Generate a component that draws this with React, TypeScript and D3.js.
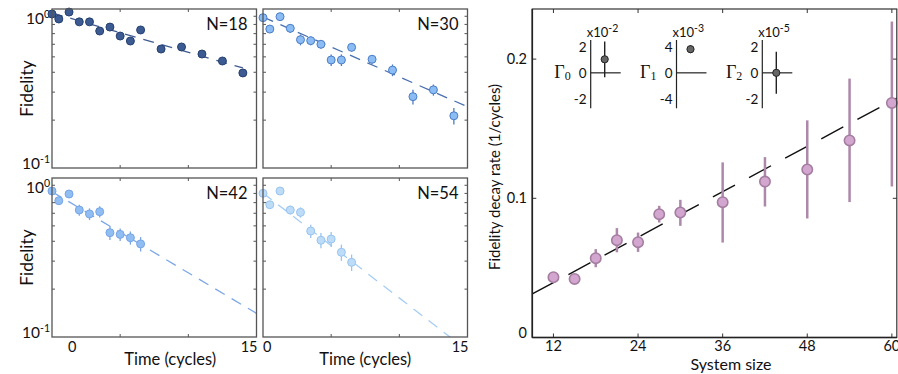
import * as d3 from "d3";
import React from "react";

const FONT = "Lato, 'Open Sans', sans-serif";
const SERIF = "'Liberation Serif', 'DejaVu Serif', serif";

// time points (cycles)
const timesLong = [0, 0.5, 1.25, 2, 2.75, 3.5, 4.25, 5, 5.75, 6.5, 8, 9.5, 11, 12.5, 14];
const timesShort = [0, 0.5, 1.25, 2, 2.75, 3.5, 4.25, 5, 5.75, 6.5];

// fidelity for each system size
const fid18 = [0.93, 0.865, 0.957, 0.83, 0.83, 0.727, 0.77, 0.676, 0.629, 0.738, 0.56, 0.577, 0.521, 0.471, 0.396];
const err18 = [0.015, 0.015, 0.015, 0.015, 0.015, 0.015, 0.015, 0.015, 0.015, 0.015, 0.015, 0.015, 0.015, 0.02, 0.02];
const fid30 = [0.882, 0.748, 0.895, 0.756, 0.641, 0.632, 0.6, 0.478, 0.478, 0.574, 0.483, 0.413, 0.281, 0.31, 0.213];
const err30 = [0.03, 0.03, 0.03, 0.05, 0.05, 0.04, 0.035, 0.04, 0.04, 0.035, 0.03, 0.035, 0.03, 0.025, 0.025];
const fid42 = [0.828, 0.72, 0.793, 0.629, 0.594, 0.614, 0.453, 0.442, 0.421, 0.385];
const err42 = [0.03, 0.03, 0.03, 0.05, 0.05, 0.05, 0.045, 0.04, 0.04, 0.04];
const fid54 = [0.801, 0.679, 0.828, 0.629, 0.608, 0.464, 0.406, 0.413, 0.341, 0.295];
const err54 = [0.03, 0.03, 0.03, 0.04, 0.045, 0.045, 0.045, 0.045, 0.04, 0.035];

const panelN = [18, 30, 42, 54];
const fitAmp = [0.944, 0.89, 0.82, 0.804];
const fitRate = [0.0569, 0.0866, 0.1175, 0.152];
const fitEnd = [14, 15, 15, 15];

// decay rate vs system size
const sizes = [12, 15, 18, 21, 24, 27, 30, 36, 42, 48, 54, 60];
const rates = [0.0433, 0.0421, 0.057, 0.0699, 0.0685, 0.0886, 0.0898, 0.0972, 0.112, 0.1207, 0.1416, 0.1685];
const rateLow = [0.0403, 0.0391, 0.0505, 0.0612, 0.0615, 0.0826, 0.0802, 0.0682, 0.0941, 0.0855, 0.0973, 0.1085];
const rateHigh = [0.0463, 0.0451, 0.0635, 0.0786, 0.0754, 0.0946, 0.0989, 0.1258, 0.1296, 0.156, 0.186, 0.227];
const rateFit = { intercept: 0.0068, slope: 0.00272 };
const sizeTicks = [12, 24, 36, 48, 60];
const rateTicks = [0, 0.1, 0.2];

// fit coefficients insets
const gammaIdx = ["0", "1", "2"];
const gammaVal = [1.03, 3.6, 0];
const gammaErr = [1.36, 0.6, 1.6];
const gammaExp = ["-2", "-3", "-5"];
const gammaTick = [2, 4, 2];

const styles = [
  { fill: "#3c5b92", stroke: "#26406f", line: "#3f5b8f" },
  { fill: "#8bbcf3", stroke: "#4b7dc5", line: "#4a70b0" },
  { fill: "#90bdf2", stroke: "#76a5e6", line: "#7ba7e8" },
  { fill: "#bddcf8", stroke: "#99c4ef", line: "#a6cdf5" },
];

const minorTicks = [0.2, 0.3, 0.4, 0.5, 0.6, 0.7, 0.8, 0.9];

interface PanelProps {
  idx: number;
  x0: number;
  y0: number;
  times: number[];
  fid: number[];
  err: number[];
  showX: boolean;
  labelShift?: number;
}

const PW = 204.5;
const PH = 159;

const DecayPanel: React.FC<PanelProps> = ({ idx, x0, y0, times, fid, err, showX, labelShift = 0 }) => {
  const x = d3.scaleLinear().domain([0, 15]).range([x0, x0 + PW]);
  const y = d3.scaleLog().domain([0.1, 1]).range([y0 + PH, y0]);
  const st = styles[idx];
  const line = d3.line<number>()
    .x(t => x(t))
    .y(t => y(fitAmp[idx] * Math.exp(-fitRate[idx] * t)));
  const clipId = `clip-${idx}`;
  const axisCol = "#555";
  return (
    <g>
      <defs>
        <clipPath id={clipId}>
          <rect x={x0} y={y0} width={PW} height={PH} />
        </clipPath>
      </defs>
      {minorTicks.map(v => (
        <g key={v} stroke={axisCol} strokeWidth={1}>
          <line x1={x0} x2={x0 + 3} y1={y(v)} y2={y(v)} />
          <line x1={x0 + PW} x2={x0 + PW - 3} y1={y(v)} y2={y(v)} />
        </g>
      ))}
      {[5, 10].map(t => (
        <g key={t} stroke={axisCol} strokeWidth={1}>
          <line x1={x(t)} x2={x(t)} y1={y0} y2={y0 + 3} />
          <line x1={x(t)} x2={x(t)} y1={y0 + PH} y2={y0 + PH - 3} />
        </g>
      ))}
      <path
        d={line([0, fitEnd[idx]]) || ""}
        fill="none"
        stroke={st.line}
        strokeWidth={1.3}
        strokeDasharray="11,8"
        clipPath={`url(#${clipId})`}
      />
      {times.map((t, i) => (
        <line
          key={"e" + i}
          x1={x(t)}
          x2={x(t)}
          y1={y(fid[i] + err[i])}
          y2={y(fid[i] - err[i])}
          stroke={st.stroke}
          strokeWidth={1.3}
        />
      ))}
      {times.map((t, i) => (
        <circle key={"p" + i} cx={x(t)} cy={y(fid[i])} r={4} fill={st.fill} stroke={st.stroke} strokeWidth={1} />
      ))}
      <rect x={x0} y={y0} width={PW} height={PH} fill="none" stroke={axisCol} strokeWidth={1.3} />
      <text x={x0 + PW - 9} y={y0 + 21} textAnchor="end" fontFamily={FONT} fontSize={16.5} fill="#111">
        N={panelN[idx]}
      </text>
      {showX && (
        <g fontFamily={FONT} fill="#111">
          <text x={x(0) + labelShift} y={351.5} fontSize={14.5} textAnchor="start">0</text>
          <text x={x(15) + 1} y={351.5} fontSize={14.5} textAnchor="end">15</text>
          <text x={x(7.5) + labelShift} y={365} fontSize={16.5} textAnchor="middle">Time (cycles)</text>
        </g>
      )}
    </g>
  );
};

const YLabels: React.FC<{ y0: number }> = ({ y0 }) => {
  const y = d3.scaleLog().domain([0.1, 1]).range([y0 + PH, y0]);
  return (
    <g fontFamily={FONT} fill="#111">
      <text x={50} y={y(1) + 15} fontSize={15.5} textAnchor="end">
        10<tspan dy={-6} fontSize={10.5}>0</tspan>
      </text>
      <text x={50} y={y(0.1) + 1} fontSize={15.5} textAnchor="end">
        10<tspan dy={-6} fontSize={10.5}>-1</tspan>
      </text>
      <text
        transform={`translate(33,${y0 + PH / 2}) rotate(-90)`}
        fontSize={17.5}
        textAnchor="middle"
      >
        Fidelity
      </text>
    </g>
  );
};

const RateChart: React.FC = () => {
  const left = 532.3, right = 896.8, top = 9, bottom = 337.5;
  const x = d3.scaleLinear().domain([9, 60.7]).range([left, right]);
  const y = d3.scaleLinear().domain([0, 0.236]).range([bottom, top]);
  const fit = d3.line<number>()
    .x(n => x(n))
    .y(n => y(rateFit.intercept + rateFit.slope * n));
  const axisCol = "#333";
  const pink = { fill: "#d3a6cf", stroke: "#a47da1", bar: "#ad88aa" };

  // insets
  const insetX = d3.scalePoint<string>().domain(gammaIdx).range([590.7, 762.3]);
  const insetY = (k: number) => d3.scaleLinear().domain([-2.7 * gammaTick[k] / 2, 2.5 * gammaTick[k] / 2]).range([108.3, 40]);
  const insetH = d3.scaleLinear().domain([0, 2]).range([0, 30]);

  return (
    <g>
      {sizeTicks.map(t => (
        <g key={t} stroke={axisCol} strokeWidth={1}>
          <line x1={x(t)} x2={x(t)} y1={bottom} y2={bottom - 4} />
          <line x1={x(t)} x2={x(t)} y1={top} y2={top + 4} />
        </g>
      ))}
      {rateTicks.slice(1).map(t => (
        <g key={t} stroke={axisCol} strokeWidth={1}>
          <line x1={left} x2={left + 4} y1={y(t)} y2={y(t)} />
          <line x1={right} x2={right - 4} y1={y(t)} y2={y(t)} />
        </g>
      ))}
      <path
        d={fit([9, 60.7]) || ""}
        fill="none"
        stroke="#111"
        strokeWidth={1.4}
        strokeDasharray="25,16"
      />
      {sizes.map((n, i) => (
        <line key={"e" + i} x1={x(n)} x2={x(n)} y1={y(rateHigh[i])} y2={y(rateLow[i])} stroke={pink.bar} strokeWidth={2.5} />
      ))}
      {sizes.map((n, i) => (
        <circle key={"p" + i} cx={x(n)} cy={y(rates[i])} r={5.2} fill={pink.fill} stroke={pink.stroke} strokeWidth={1.6} />
      ))}
      <rect x={left} y={top} width={right - left} height={bottom - top} fill="none" stroke={axisCol} strokeWidth={1.2} />
      <line x1={left} x2={left} y1={top} y2={bottom} stroke="#222" strokeWidth={1.6} />
      <line x1={left} x2={right} y1={bottom} y2={bottom} stroke="#222" strokeWidth={1.6} />
      <g fontFamily={FONT} fill="#111">
        {sizeTicks.map(t => (
          <text key={t} x={x(t)} y={351} fontSize={14.5} textAnchor="middle">{t}</text>
        ))}
        {rateTicks.map(t => (
          <text key={t} x={527} y={y(t) + (t === 0 ? 0 : 5)} fontSize={14.5} textAnchor="end">{t === 0 ? "0" : t.toFixed(1)}</text>
        ))}
        <text x={731} y={369.5} fontSize={16} textAnchor="middle">System size</text>
        <text transform={`translate(500,${177}) rotate(-90)`} fontSize={15} textAnchor="middle">
          Fidelity decay rate (1/cycles)
        </text>
      </g>
      {gammaIdx.map((g, k) => {
        const ax = insetX(g) as number;
        const sy = insetY(k);
        const px = ax + 14;
        return (
          <g key={g}>
            <line x1={ax} x2={ax} y1={sy.range()[1]} y2={sy.range()[0]} stroke="#222" strokeWidth={1.2} />
            <line x1={ax + insetH(0)} x2={ax + insetH(2)} y1={sy(0)} y2={sy(0)} stroke="#222" strokeWidth={1.2} />
            <line x1={px} x2={px} y1={sy(gammaVal[k] + gammaErr[k])} y2={sy(gammaVal[k] - gammaErr[k])} stroke="#222" strokeWidth={1.4} />
            <circle cx={px} cy={sy(gammaVal[k])} r={3.6} fill="#666" stroke="#222" strokeWidth={1} />
            <g fontFamily={FONT} fill="#111" fontSize={13.5} textAnchor="end">
              <text x={ax - 4} y={sy(gammaTick[k]) + 5}>{gammaTick[k]}</text>
              <text x={ax - 4} y={sy(0) + 5}>0</text>
              <text x={ax - 4} y={sy(-gammaTick[k]) + 5}>-{gammaTick[k]}</text>
            </g>
            <text x={ax - 4} y={36.5} fontFamily={FONT} fontSize={13} fill="#111">
              x10<tspan dy={-5} fontSize={10.5}>{gammaExp[k]}</tspan>
            </text>
            <text x={ax - 20} y={78} fontFamily={SERIF} fontSize={18} fill="#111" textAnchor="end">
              Γ<tspan dy={2} fontSize={12}>{g}</tspan>
            </text>
          </g>
        );
      })}
    </g>
  );
};

export default function App() {
  return (
    <svg
      width={898}
      height={374}
      style={{ position: "absolute", left: 0, top: 0, background: "#fff" }}
    >
      <rect width={898} height={374} fill="#fff" />
      <YLabels y0={9} />
      <YLabels y0={178} />
      <DecayPanel idx={0} x0={52} y0={9} times={timesLong} fid={fid18} err={err18} showX={false} />
      <DecayPanel idx={1} x0={263} y0={9} times={timesLong} fid={fid30} err={err30} showX={false} />
      <DecayPanel idx={2} x0={52} y0={178} times={timesShort} fid={fid42} err={err42} showX={true} labelShift={16} />
      <DecayPanel idx={3} x0={263} y0={178} times={timesShort} fid={fid54} err={err54} showX={true} />
      <RateChart />
    </svg>
  );
}
